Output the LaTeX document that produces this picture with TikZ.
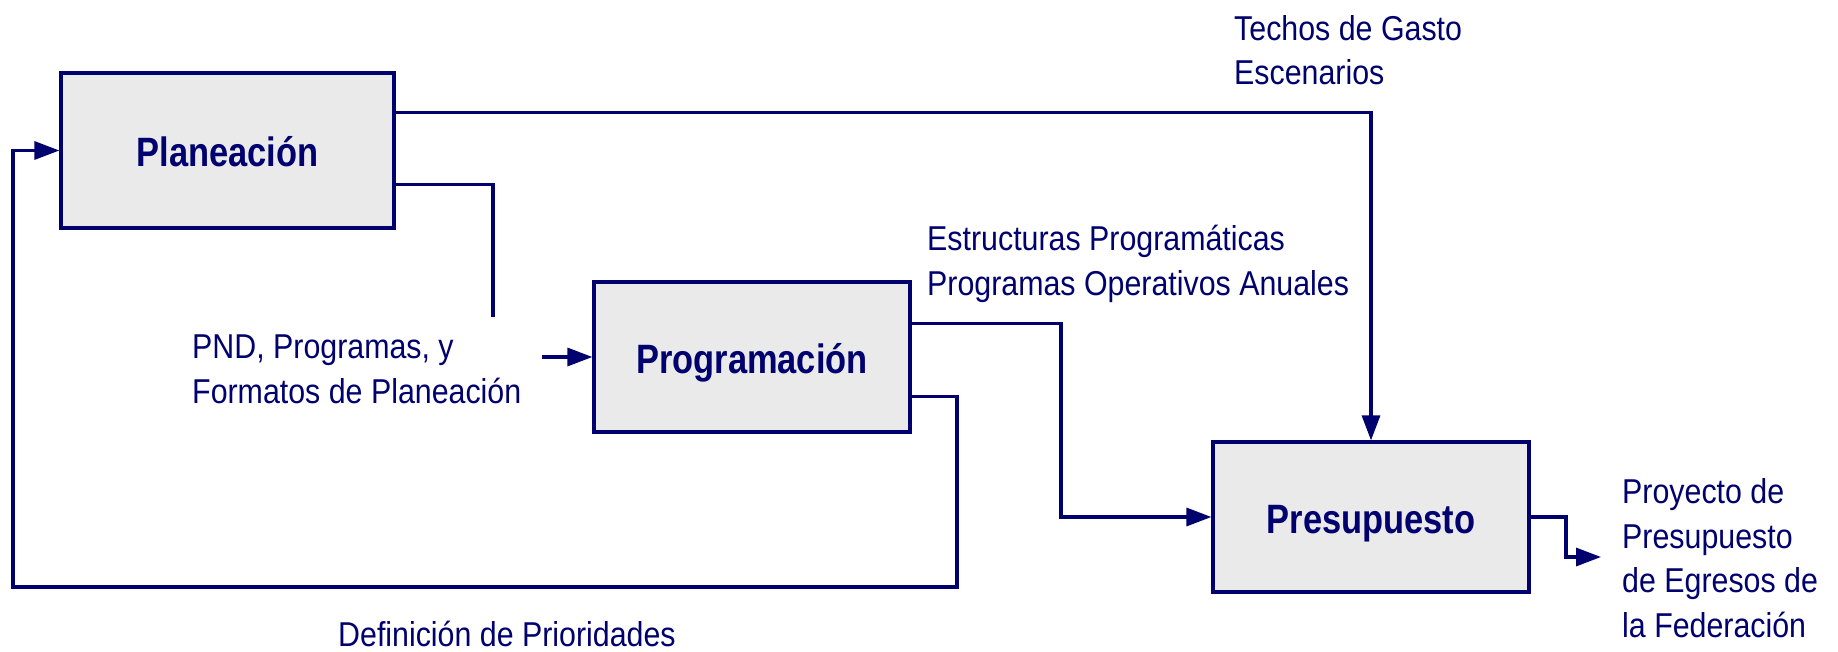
\documentclass[tikz,border=0pt]{standalone}
\usepackage{fontspec}
\setmainfont[FakeStretch=0.88]{Liberation Sans}
\newfontfamily\boxfont[FakeStretch=0.84]{Liberation Sans}
\usetikzlibrary{arrows.meta}
\definecolor{navy}{RGB}{0,0,110}
\definecolor{boxgray}{RGB}{234,234,234}
\begin{document}
\begin{tikzpicture}[x=1pt,y=-1pt,
  procbox/.style={draw=navy, fill=boxgray, line width=3.2pt, inner sep=0pt, text=navy,
    text height=32pt, text depth=0pt,
    font=\boxfont\fontsize{41}{46}\selectfont\bfseries},
  lbl/.style={text=navy, font=\fontsize{34.5}{44.5}\selectfont, inner sep=0pt,
    anchor=base west, align=left},
  flow/.style={draw=navy, line width=3.2pt},
  arr/.style={flow, -{Triangle[length=25pt,width=18pt]}}]
\useasboundingbox (0,0) rectangle (1838,652);
\node[procbox, minimum width=333pt, minimum height=155pt] (plan) at (227.5,150.5) {Planeación};
\node[procbox, minimum width=316pt, minimum height=150pt] (prog) at (752,357) {Programación};
\node[procbox, minimum width=316pt, minimum height=150pt] (pres) at (1371,517) {Presupuesto};
\node[lbl] (techos) at (1234,85) {Techos de Gasto\\Escenarios};
\node[lbl] (estr) at (927,295) {Estructuras Programáticas\\Programas Operativos Anuales};
\node[lbl] (pnd) at (192,403) {PND, Programas, y\\Formatos de Planeación};
\node[lbl] (defp) at (338,646) {Definición de Prioridades};
\node[lbl] (proy) at (1622,637) {Proyecto de\\Presupuesto\\de Egresos de\\la Federación};
\coordinate (pndtop) at (493,317);
\coordinate (pndarr) at (542,357);
\coordinate (j1) at (1061,0);
\coordinate (j2) at (957,587);
\coordinate (j3) at (13,587);
\coordinate (j4) at (1566,557);
\coordinate (outend) at (1601,557);
\draw[arr] ([yshift=-41pt]plan.north east) -| (pres.north);
\draw[flow] ([yshift=-113pt]plan.north east) -| (pndtop);
\draw[arr] (pndarr) -- (prog.west);
\draw[arr] ([yshift=-43pt]prog.north east) -| (j1 |- pres.west) -- (pres.west);
\draw[arr] ([yshift=-116pt]prog.north east) -| (j2) -- (j3) |- (plan.west);
\draw[arr] (pres.east) -| (j4) -- (outend);
\end{tikzpicture}
\end{document}
